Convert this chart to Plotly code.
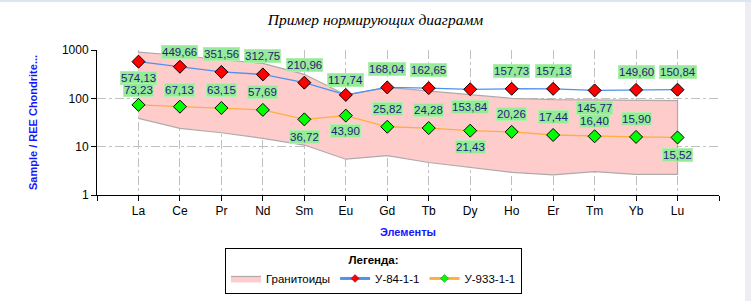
import math
import plotly.graph_objects as go

elements = ["La", "Ce", "Pr", "Nd", "Sm", "Eu", "Gd", "Tb", "Dy", "Ho", "Er", "Tm", "Yb", "Lu"]
s84 = [574.13, 449.66, 351.56, 312.75, 210.96, 117.74, 168.04, 162.65, 153.84, 157.73, 157.13, 145.77, 149.60, 150.84]
s933 = [73.23, 67.13, 63.15, 57.69, 36.72, 43.90, 25.82, 24.28, 21.43, 20.26, 17.44, 16.40, 15.90, 15.52]
gran_upper = [900, 770, 630, 530, 314, 117, 169, 142, 121, 100, 94, 92, 91, 90]
gran_lower = [38.6, 24, 19.4, 14.9, 10.8, 5.5, 6.5, 4.7, 3.7, 2.95, 2.6, 3.04, 2.68, 2.68]

# label offsets in pixels (positive = up)
off84 = [-16, 15, 18, 18, 18, 15, 18, 18, -18, 18, 18, -18, 18, 18]
off933 = [15, 17, 18, 18, -18, -15, 18, 18, -16, 18, 18, 15, 18, -18]

xi = list(range(len(elements)))
FONT = "Liberation Sans, Arial"
C84 = "rgb(80,145,235)"
C933 = "rgb(255,175,60)"

fig = go.Figure()

fig.add_trace(go.Scatter(
    x=xi + xi[::-1], y=gran_upper + gran_lower[::-1],
    fill="toself", fillcolor="rgb(255,204,204)",
    line=dict(color="rgb(175,170,170)", width=1.2),
    mode="lines", name="Гранитоиды", hoverinfo="skip"))

fig.add_trace(go.Scatter(
    x=xi, y=s84, mode="lines+markers", name="У-84-1-1", showlegend=False,
    line=dict(color=C84, width=1.3),
    marker=dict(symbol="diamond", size=10, color="red", line=dict(color="black", width=1))))

fig.add_trace(go.Scatter(
    x=xi, y=s933, mode="lines+markers", name="У-933-1-1", showlegend=False,
    line=dict(color=C933, width=1.3),
    marker=dict(symbol="diamond", size=10, color="rgb(0,255,0)", line=dict(color="black", width=1))))

# legend-only entries with small markers
fig.add_trace(go.Scatter(
    x=[None], y=[None], mode="lines+markers", name="У-84-1-1",
    line=dict(color=C84, width=3),
    marker=dict(symbol="diamond", size=6, color="red", line=dict(color="rgb(120,0,0)", width=0.5))))
fig.add_trace(go.Scatter(
    x=[None], y=[None], mode="lines+markers", name="У-933-1-1",
    line=dict(color=C933, width=3),
    marker=dict(symbol="diamond", size=6, color="rgb(0,255,0)", line=dict(color="rgb(0,120,0)", width=0.5))))

def fmt(v):
    return f"{v:.2f}".replace(".", ",")

for vals, offs in ((s84, off84), (s933, off933)):
    for i, (v, o) in enumerate(zip(vals, offs)):
        fig.add_annotation(
            x=i, y=math.log10(v), xref="x", yref="y", text=fmt(v),
            showarrow=False, yshift=o,
            font=dict(family=FONT, size=11.5, color="rgb(30,30,120)"),
            bgcolor="rgb(150,235,150)", bordercolor="rgb(175,240,175)", borderwidth=1, borderpad=0)

grid = dict(showgrid=True, gridcolor="rgb(192,192,192)", griddash="dashdot", gridwidth=1)

fig.update_xaxes(
    range=[-1, 14], tickvals=[-1] + xi + [14], ticktext=[""] + elements + [""],
    showline=True, linecolor="black", linewidth=1, ticks="outside", ticklen=5, tickcolor="black",
    tickfont=dict(family=FONT, size=12, color="black"),
    title=dict(text="<b>Элементы</b>", font=dict(family=FONT, size=11, color="rgb(20,20,255)"), standoff=10),
    zeroline=False, automargin=False, **grid)

fig.update_yaxes(
    type="log", range=[0, 3], tickvals=[1, 10, 100, 1000], ticktext=["1", "10", "100", "1000"],
    showline=True, linecolor="black", linewidth=1, ticks="outside", ticklen=5, tickcolor="black",
    tickfont=dict(family=FONT, size=12, color="black"),
    title=dict(text="<b>Sample / REE Chondrite...</b>", font=dict(family=FONT, size=11, color="rgb(20,20,255)"), standoff=22),
    zeroline=False, automargin=False, **grid)

fig.update_layout(
    width=751, height=301,
    margin=dict(l=97, r=32, t=50, b=106, autoexpand=False),
    paper_bgcolor="white", plot_bgcolor="white",
    title=dict(text="<i>Пример нормирующих диаграмм</i>", x=0.5, xref="container", y=1 - 20 / 301, yref="container",
               xanchor="center", yanchor="middle",
               font=dict(family="Liberation Serif, Times New Roman", size=15.5, color="black")),
    showlegend=True,
    legend=dict(orientation="h", x=(373.5 - 97) / 622, xanchor="center", y=(195 - 248) / 145, yanchor="top",
                bordercolor="black", borderwidth=1, bgcolor="white",
                font=dict(family=FONT, size=11.5, color="black"),
                title=dict(text="<b>Легенда:</b>", side="top center",
                           font=dict(family=FONT, size=11.5, color="black")),
                itemwidth=30, tracegroupgap=0),
    shapes=[
        dict(type="rect", xref="paper", yref="paper", x0=(745 - 97) / 622, x1=(751 - 97) / 622,
             y0=-106 / 145, y1=(301 - 106) / 145 + 0.5, fillcolor="rgb(236,238,242)", line=dict(width=0), layer="below"),
        dict(type="rect", xref="paper", yref="paper", x0=-97 / 622, x1=(751 - 97) / 622,
             y0=(195 - 2) / 145, y1=(195) / 145 + 0.02, fillcolor="rgb(220,230,242)", line=dict(width=0), layer="below"),
    ],
)

fig.write_html("out.html")
